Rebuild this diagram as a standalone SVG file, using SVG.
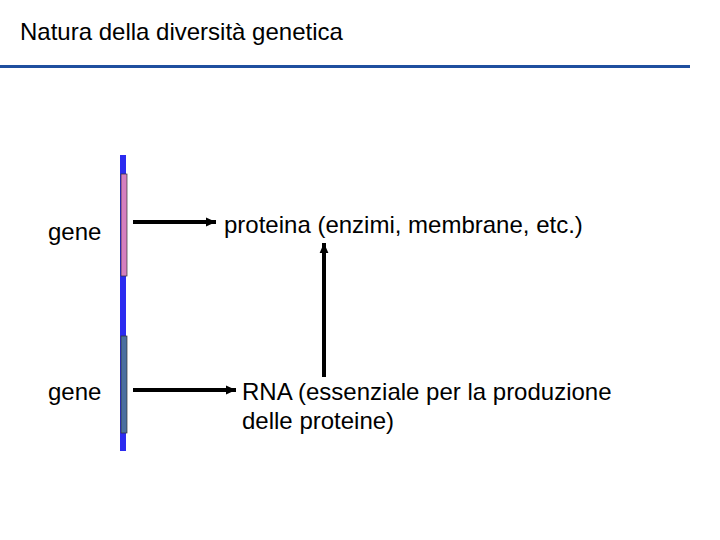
<svg xmlns="http://www.w3.org/2000/svg" width="720" height="540" viewBox="0 0 720 540">
<style>
text{font-family:"Liberation Sans",Arial,sans-serif;font-size:24px;fill:#000}
.c{stroke:#000;stroke-width:4;fill:none}
</style>
<defs><marker id="a" markerWidth="3" markerHeight="3" refX="2.5" refY="1.5" orient="auto" markerUnits="strokeWidth"><path d="M0,0.4L2.5,1.5L0,2.6z" fill="#000"/></marker></defs>
<rect width="720" height="540" fill="#fff"/>
<g id="title"><text x="20" y="40">Natura della diversità genetica</text>
<line x1="0" y1="66.5" x2="690" y2="66.5" stroke="#1f4f9f" stroke-width="3"/></g>
<g id="chromosome"><rect x="120" y="155" width="6" height="296" fill="#2b2bf0"/>
<rect x="121" y="174" width="6" height="102" fill="#d57fbf" stroke="#333" stroke-width="0.7"/>
<rect x="121" y="336" width="6" height="97" fill="#4a6f9f" stroke="#333" stroke-width="0.7"/></g>
<g id="gene1"><text x="48" y="240">gene</text></g>
<g id="gene2"><text x="48" y="400">gene</text></g>
<g id="proteina"><text x="224" y="233">proteina (enzimi, membrane, etc.)</text></g>
<g id="rna"><text x="242" y="400">RNA (essenziale per la produzione</text><text x="242" y="429">delle proteine)</text></g>
<g id="connectors">
<line class="c" x1="133" y1="222" x2="216" y2="222" marker-end="url(#a)"/>
<line class="c" x1="133" y1="390" x2="236" y2="390" marker-end="url(#a)"/>
<line class="c" x1="324" y1="377" x2="324" y2="243" marker-end="url(#a)"/>
</g>
</svg>
